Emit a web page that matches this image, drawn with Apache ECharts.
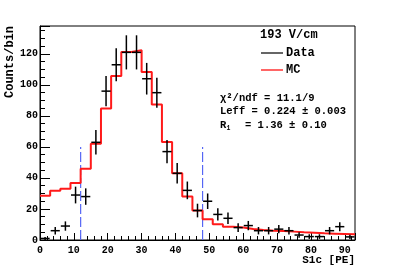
<!DOCTYPE html>
<html><head><meta charset="utf-8">
<script src="https://cdn.jsdelivr.net/npm/echarts@6/dist/echarts.min.js"></script>
<style>html,body{margin:0;padding:0;background:#fff}#c{width:395px;height:267px}</style>
</head><body><div id="c"></div>
<script>
// ---- data ----
const binCenters = [1.5,4.5,7.5,10.5,13.5,16.5,19.5,22.5,25.5,28.5,31.5,34.5,37.5,40.5,43.5,46.5,49.5,52.5,55.5,58.5,61.5,64.5,67.5,70.5,73.5,76.5,79.5,82.5,85.5,88.5,91.5];
const binWidth = 3;
const dataCounts = [1,6,9,29,28,63,96,113,121,121,104,95,57,43,32,19,25,16.5,14,8,9.3,6,6,7,6,3.2,2.2,2.2,6,8.6,2];
const dataErrors = [1,2.4,3,5.4,5.3,7.9,9.8,10.6,11,11,10.2,9.7,7.5,6.6,5.7,4.4,5,4,3.7,2.8,3,2.4,2.4,2.6,2.4,1.8,1.5,1.5,2.4,2.9,1.4];
const mcCounts = [28.5,31.7,33,36.8,46,62,84.8,105.7,121.2,122.3,108.3,87.4,63.2,43,28,19,13.4,10.2,8.6,8,7.1,6.5,6,5.8,5.4,5,4.7,4.3,4.1,3.9,3.7];
const cutPositions = [12, 48];
const cutHeight = 60;
const xRange = [0, 93];
const yRange = [0, 138];
const xTitle = 'S1c [PE]';
const yTitle = 'Counts/bin';
const legendTitle = '193 V/cm';
const legendNames = ['Data', 'MC'];
const statChi = '\u03c7\u00b2/ndf = 11.1/9';
const statLeff = 'Leff = 0.224 \u00b1 0.003';
const statR1 = ['R', '1', '= 1.36 \u00b1 0.10'];
// ---------------------------------------

const FONT = '"Liberation Mono", "DejaVu Sans Mono", monospace';
const chart = echarts.init(document.getElementById('c'), null, {renderer: 'canvas'});

const mcSteps = mcCounts.map((v, i) => [binCenters[i] - binWidth / 2, v]);
mcSteps.push([binCenters[binCenters.length - 1] + binWidth / 2, mcCounts[mcCounts.length - 1]]);
const dataPts = dataCounts.map((v, i) => [binCenters[i], v, dataErrors[i]]);
const halfBar = binWidth * 0.45;

const lineStyle = {stroke: '#000', lineWidth: 1.5};

const cutSeries = cutPositions.map(x => ({
  type: 'line', xAxisIndex: 0, yAxisIndex: 0, data: [[x, 0], [x, cutHeight]],
  symbol: 'none', silent: true, z: 3,
  lineStyle: {color: '#5566f5', width: 1.2, type: [10, 3]}
}));

const txt = (x, y, s, size, align) => ({type: 'text', x, y,
  style: {text: s, font: 'bold ' + size + 'px ' + FONT, fill: '#000', align: align || 'left', verticalAlign: 'middle'}});

const option = {
  animation: false,
  backgroundColor: '#fff',
  grid: {left: 40, right: 40, top: 26, bottom: 27, show: true, borderColor: '#000', borderWidth: 1, backgroundColor: 'transparent'},
  xAxis: [
    {type: 'value', min: xRange[0], max: xRange[1], interval: 10, position: 'bottom',
     axisLine: {show: true, lineStyle: {color: '#000', width: 1}},
     axisTick: {show: true, inside: true, length: 7, lineStyle: {color: '#000', width: 1}},
     axisLabel: {color: '#000', fontFamily: FONT, fontWeight: 'bold', fontSize: 10, margin: 5,
                 formatter: v => (v % 10 === 0 ? String(v) : '')},
     splitLine: {show: false}},
    {type: 'value', min: xRange[0], max: xRange[1], interval: 2, position: 'bottom',
     axisLine: {show: false}, axisLabel: {show: false}, splitLine: {show: false},
     axisTick: {show: true, inside: true, length: 4, lineStyle: {color: '#000', width: 1}}}
  ],
  yAxis: [
    {type: 'value', min: yRange[0], max: yRange[1], interval: 20, position: 'left',
     axisLine: {show: true, lineStyle: {color: '#000', width: 1}},
     axisTick: {show: true, inside: true, length: 10, lineStyle: {color: '#000', width: 1}},
     axisLabel: {color: '#000', fontFamily: FONT, fontWeight: 'bold', fontSize: 10, margin: 2,
                 formatter: v => (v % 20 === 0 ? String(v) : '')},
     splitLine: {show: false}},
    {type: 'value', min: yRange[0], max: yRange[1], interval: 5, position: 'left',
     axisLine: {show: false}, axisLabel: {show: false}, splitLine: {show: false},
     axisTick: {show: true, inside: true, length: 5, lineStyle: {color: '#000', width: 1}}}
  ],
  series: [
    {name: legendNames[1], type: 'line', xAxisIndex: 0, yAxisIndex: 0, step: 'end', data: mcSteps,
     symbol: 'none', z: 4, lineStyle: {color: '#ff1a1a', width: 2}},
    {name: legendNames[0], type: 'custom', xAxisIndex: 0, yAxisIndex: 0, data: dataPts, z: 5, clip: true,
     renderItem: (params, api) => {
       const x = api.value(0), y = api.value(1), e = api.value(2);
       const c = api.coord([x, y]);
       const l = api.coord([x - halfBar, y]);
       const r = api.coord([x + halfBar, y]);
       const t = api.coord([x, y + e]);
       const b = api.coord([x, Math.max(0, y - e)]);
       return {type: 'group', children: [
         {type: 'line', shape: {x1: l[0], y1: c[1], x2: r[0], y2: c[1]}, style: lineStyle},
         {type: 'line', shape: {x1: c[0], y1: t[1], x2: c[0], y2: b[1]}, style: lineStyle}
       ]};
     }},
    ...cutSeries
  ],
  graphic: [
    {type: 'text', x: 10, y: 26, rotation: Math.PI / 2,
     style: {text: yTitle, font: 'bold 12px ' + FONT, fill: '#000', align: 'right', verticalAlign: 'middle'}},
    txt(355, 260, xTitle, 11, 'right'),
    txt(260, 35, legendTitle, 12),
    {type: 'line', shape: {x1: 261, y1: 53, x2: 283, y2: 53}, style: {stroke: '#333', lineWidth: 1.5}},
    txt(286, 53, legendNames[0], 12),
    {type: 'line', shape: {x1: 261, y1: 70, x2: 283, y2: 70}, style: {stroke: '#ff3333', lineWidth: 1.5}},
    txt(286, 70, legendNames[1], 12),
    txt(220, 98, statChi, 10.5),
    txt(220, 111.5, statLeff, 10.5),
    txt(220, 125, statR1[0], 10.5),
    txt(226.5, 128, statR1[1], 6.5),
    txt(245, 125, statR1[2], 10.5)
  ]
};
chart.setOption(option);
</script>
</body></html>
